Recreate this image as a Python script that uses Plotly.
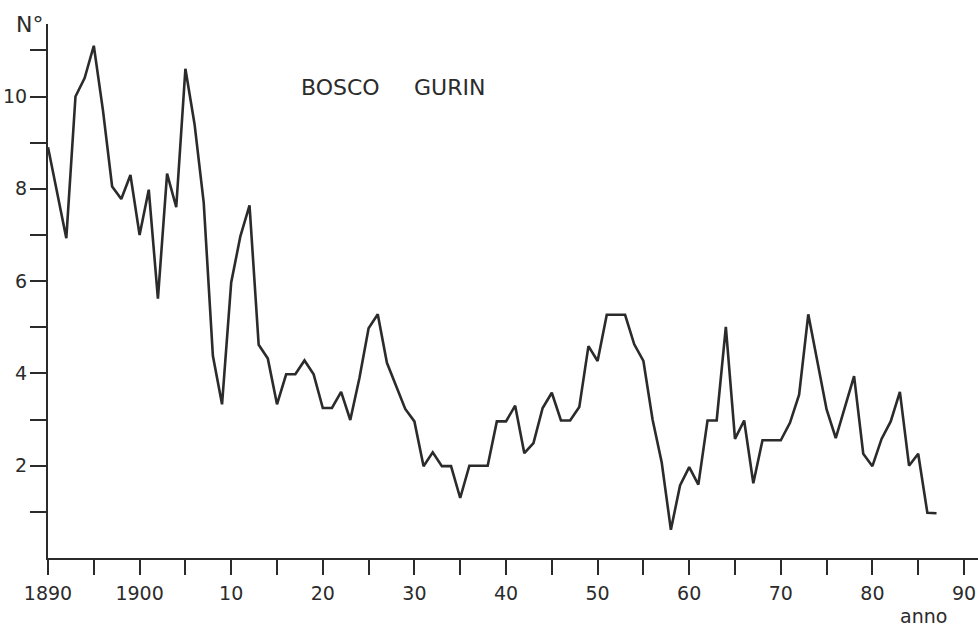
import plotly.graph_objects as go

# ---- data ----
years = list(range(1890, 1988))
values = [
    8.9, 7.9, 6.93, 10.0, 10.4, 11.1, 9.7, 8.05, 7.78, 8.3,   # 1890-1899
    7.0, 7.98, 5.62, 8.33, 7.6, 10.6, 9.4, 7.7, 4.38, 3.33,   # 1900-1909
    5.97, 6.97, 7.64, 4.62, 4.32, 3.33, 3.98, 3.98, 4.28, 3.98,  # 1910-1919
    3.25, 3.25, 3.6, 2.99, 3.9, 4.98, 5.28, 4.23, 3.72, 3.23,   # 1920-1929
    2.96, 1.99, 2.29, 1.99, 1.99, 1.3, 2.0, 2.0, 2.0, 2.96,     # 1930-1939
    2.96, 3.3, 2.27, 2.49, 3.25, 3.58, 2.98, 2.98, 3.27, 4.59,  # 1940-1949
    4.27, 5.27, 5.27, 5.27, 4.63, 4.27, 3.0, 2.07, 0.61, 1.57,  # 1950-1959
    1.97, 1.59, 2.98, 2.98, 5.01, 2.58, 2.98, 1.62, 2.55, 2.55,  # 1960-1969
    2.55, 2.93, 3.54, 5.28, 4.27, 3.22, 2.6, 3.27, 3.94, 2.26,  # 1970-1979
    1.99, 2.58, 2.96, 3.6, 2.0, 2.26, 0.98, 0.97,               # 1980-1987
]

x_tickvals = list(range(1890, 1995, 5))
x_ticktext = ["1890", "", "1900", "", "10", "", "20", "", "30", "", "40", "",
              "50", "", "60", "", "70", "", "80", "", "90"]
y_tickvals = list(range(1, 12))
y_ticktext = ["", "2", "", "4", "", "6", "", "8", "", "10", ""]

title_words = ["BOSCO", "GURIN"]
y_label = "N°"
x_label = "anno"

# ---- layout geometry (pixels) ----
W, H = 978, 626
L, R, T, B = 48, 0, 24, 68
pw, ph = W - L - R, H - T - B


def px(x):
    return (x - L) / pw


def py(y):
    return (H - B - y) / ph


ink = "#2b2b2b"
font_family = "DejaVu Sans"

fig = go.Figure()
fig.add_trace(go.Scatter(
    x=years, y=values, mode="lines",
    line=dict(color=ink, width=2.6),
    hoverinfo="skip", showlegend=False, cliponaxis=False,
))

fig.update_layout(
    width=W, height=H,
    margin=dict(l=L, r=R, t=T, b=B, pad=0, autoexpand=False),
    paper_bgcolor="white", plot_bgcolor="white",
    showlegend=False,
    xaxis=dict(
        range=[1890, 1890 + pw / 9.16],
        tickmode="array", tickvals=x_tickvals, ticktext=x_ticktext,
        ticks="outside", ticklen=15, tickwidth=2, tickcolor=ink,
        showline=True, linecolor=ink, linewidth=2,
        showgrid=False, zeroline=False, automargin=False,
        tickfont=dict(family=font_family, size=19, color=ink),
        ticklabelstandoff=2,
    ),
    yaxis=dict(
        range=[0, ph / 46.15],
        tickmode="array", tickvals=y_tickvals, ticktext=y_ticktext,
        ticks="outside", ticklen=16, tickwidth=2, tickcolor=ink,
        showline=True, linecolor=ink, linewidth=2,
        showgrid=False, zeroline=False, automargin=False,
        tickfont=dict(family=font_family, size=19, color=ink),
        ticklabelstandoff=-1,
    ),
    annotations=[
        dict(text=title_words[0], xref="paper", yref="paper",
             x=px(299), y=py(88), xanchor="left", yanchor="middle",
             showarrow=False, font=dict(family=font_family, size=22, color=ink)),
        dict(text=title_words[1], xref="paper", yref="paper",
             x=px(412), y=py(88), xanchor="left", yanchor="middle",
             showarrow=False, font=dict(family=font_family, size=22, color=ink)),
        dict(text=y_label, xref="paper", yref="paper",
             x=px(14), y=py(24), xanchor="left", yanchor="middle",
             showarrow=False, font=dict(family=font_family, size=22, color=ink)),
        dict(text=x_label, xref="paper", yref="paper",
             x=px(898), y=py(616), xanchor="left", yanchor="middle",
             showarrow=False, font=dict(family=font_family, size=19, color=ink)),
    ],
)

fig.write_html(
    "out.html",
    config={"displayModeBar": False},
    post_script="document.body.style.margin='0';document.body.style.overflow='hidden';",
)
